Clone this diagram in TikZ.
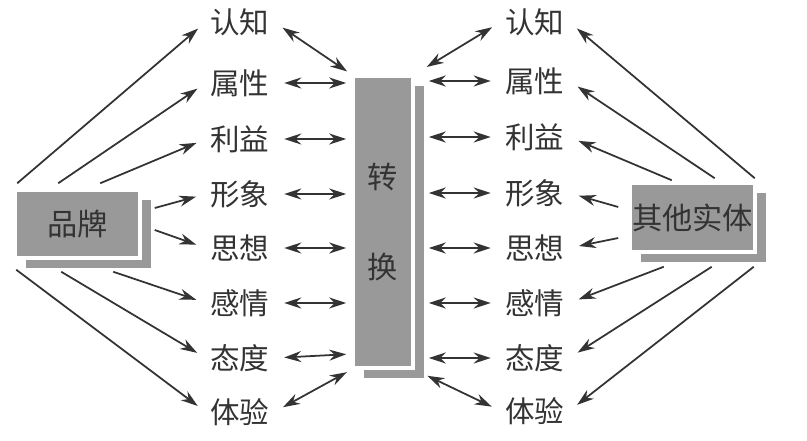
\documentclass[tikz,border=0pt]{standalone}
\usepackage{fontspec}
\usepackage{xcolor}
\usepackage{tikz}
\usetikzlibrary{arrows.meta}
\usetikzlibrary{shadows}
\newfontfamily\cjk{Noto Sans CJK SC}
\definecolor{boxgray}{gray}{0.6}
\definecolor{inkgray}{gray}{0.2}
\tikzset{every edge/.style={draw, inkgray, line width=0.5pt}}
\tikzset{
  word/.style={inner sep=0.4mm, text=inkgray, font=\cjk\fontsize{8.4}{10}\selectfont},
  block/.style={fill=boxgray, draw=white, line width=1pt, inner sep=0, align=center,
    text=inkgray, font=\cjk\fontsize{8.6}{10}\selectfont,
    drop shadow={shadow xshift=1.1mm, shadow yshift=-1mm, fill=boxgray, opacity=1}},
  tip/.style={-{Stealth[length=1.7mm,width=1.1mm]}, shorten >=1mm},
  linkl/.style={{Stealth[length=1.7mm,width=1.1mm]}-{Stealth[length=1.7mm,width=1.1mm]},
    shorten <=1mm, shorten >=0.5mm},
  linkr/.style={{Stealth[length=1.7mm,width=1.1mm]}-{Stealth[length=1.7mm,width=1.1mm]},
    shorten <=1mm, shorten >=1.4mm},
}

\begin{document}
\begin{tikzpicture}[scale=1]
    \useasboundingbox (0, 0) rectangle (8.07, 4.41);

    % blocs
    \node[block, minimum width=1.25cm, minimum height=0.68cm] at (0.775, 2.17) (brand) {品牌};
    \node[block, minimum width=0.6cm, minimum height=2.92cm] at (3.83, 2.19) (conv) {转\\[5.5mm]换};
    \node[block, minimum width=1.25cm, minimum height=0.69cm] at (6.925, 2.235) (other) {其他实体};

    % colonne gauche
    \node[word] at (2.4, 4.19) (L1) {认知};
    \node[word] at (2.4, 3.58) (L2) {属性};
    \node[word] at (2.4, 3.02) (L3) {利益};
    \node[word] at (2.4, 2.47) (L4) {形象};
    \node[word] at (2.4, 1.93) (L5) {思想};
    \node[word] at (2.4, 1.38) (L6) {感情};
    \node[word] at (2.4, 0.83) (L7) {态度};
    \node[word] at (2.4, 0.29) (L8) {体验};

    % colonne droite
    \node[word] at (5.35, 4.19) (R1) {认知};
    \node[word] at (5.35, 3.60) (R2) {属性};
    \node[word] at (5.35, 3.04) (R3) {利益};
    \node[word] at (5.35, 2.48) (R4) {形象};
    \node[word] at (5.35, 1.93) (R5) {思想};
    \node[word] at (5.35, 1.38) (R6) {感情};
    \node[word] at (5.35, 0.83) (R7) {态度};
    \node[word] at (5.35, 0.30) (R8) {体验};

    %品牌 -> gauche
    \draw ([xshift=0.4mm, yshift=0.5mm]brand.north west) edge[tip] (L1.west);
    \draw ([xshift=4.5mm, yshift=0.5mm]brand.north west) edge[tip] (L2.west);
    \draw ([xshift=8.7mm, yshift=0.5mm]brand.north west) edge[tip] (L3.west);
    \draw ([xshift=1.3mm, yshift=1.6mm]brand.east) edge[tip] (L4.west);
    \draw ([xshift=1.3mm, yshift=-0.6mm]brand.east) edge[tip] (L5.west);
    \draw ([xshift=10mm, yshift=-1.2mm]brand.south west) edge[tip] (L6.west);
    \draw ([xshift=4.8mm, yshift=-1.2mm]brand.south west) edge[tip] (L7.west);
    \draw ([xshift=0.3mm, yshift=-1mm]brand.south west) edge[tip] (L8.west);

    % gauche <-> 转换
    \draw (L1.east) edge[linkl] (conv.north west);
    \draw (L2.east) edge[linkl] (L2.east -| conv.west);
    \draw (L3.east) edge[linkl] (L3.east -| conv.west);
    \draw (L4.east) edge[linkl] (L4.east -| conv.west);
    \draw (L5.east) edge[linkl] (L5.east -| conv.west);
    \draw (L6.east) edge[linkl] (L6.east -| conv.west);
    \draw (L7.east) edge[linkl] ([yshift=0.4mm]L7.east -| conv.west);
    \draw (L8.east) edge[linkl] (conv.south west);

    % droite <-> 转换
    \draw (R1.west) edge[linkr] (conv.north east);
    \draw (R2.west) edge[linkr] (R2.west -| conv.east);
    \draw (R3.west) edge[linkr] (R3.west -| conv.east);
    \draw (R4.west) edge[linkr] (R4.west -| conv.east);
    \draw (R5.west) edge[linkr] (R5.west -| conv.east);
    \draw (R6.west) edge[linkr] (R6.west -| conv.east);
    \draw (R7.west) edge[linkr] (R7.west -| conv.east);
    \draw (R8.west) edge[linkr] (conv.south east);

    % 其他实体 -> droite
    \draw ([xshift=-0.2mm, yshift=0.3mm]other.north east) edge[tip] (R1.east);
    \draw ([xshift=-4.2mm, yshift=0.3mm]other.north east) edge[tip] (R2.east);
    \draw ([xshift=-8.5mm, yshift=0.1mm]other.north east) edge[tip] (R3.east);
    \draw ([xshift=-1mm, yshift=1.05mm]other.west) edge[tip] (R4.east);
    \draw ([xshift=-1mm, yshift=-2.05mm]other.west) edge[tip] (R5.east);
    \draw ([xshift=-9.3mm, yshift=-1.3mm]other.south east) edge[tip] (R6.east);
    \draw ([xshift=-4.5mm, yshift=-1.3mm]other.south east) edge[tip] (R7.east);
    \draw ([xshift=-0.3mm, yshift=-1.3mm]other.south east) edge[tip] (R8.east);
  \end{tikzpicture}
\end{document}
